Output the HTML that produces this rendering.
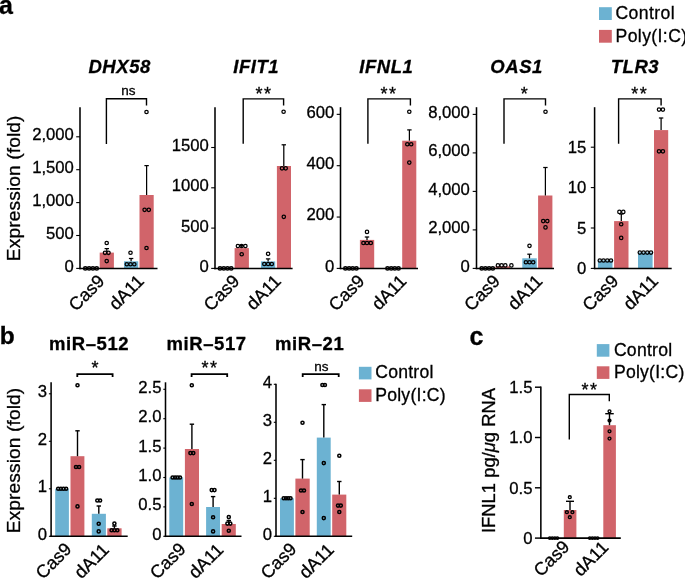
<!DOCTYPE html>
<html lang="en">
<head>
<meta charset="utf-8">
<title>Figure: interferon response gene and miRNA expression</title>
<style>
html,body{margin:0;padding:0;background:#fff;}
body{width:685px;height:578px;overflow:hidden;}
svg{display:block;}
svg text{font-family:"Liberation Sans",Arial,Helvetica,sans-serif;fill:#000;stroke:#000;stroke-width:0.3px;}
</style>
</head>
<body>
<svg width="685" height="578" viewBox="0 0 685 578">
<rect x="0" y="0" width="685" height="578" fill="#fff"/>
<text x="-0.9" y="14" font-size="25" font-weight="bold">a</text>
<text transform="translate(19.7 188.3) rotate(-90)" font-size="19.2" text-anchor="middle" letter-spacing="0.1">Expression (fold)</text>
<rect x="599" y="7.2" width="12.8" height="12.8" fill="#6CB2D2"/>
<rect x="599" y="29.9" width="12.8" height="12.8" fill="#D1646A"/>
<text x="615.5" y="18.9" font-size="17.6" letter-spacing="0.4">Control</text>
<text x="615.5" y="41.6" font-size="17.6" letter-spacing="0.4">Poly(I:C)</text>
<text x="119.65" y="72.8" font-size="18.5" text-anchor="middle" font-weight="bold" font-style="italic" letter-spacing="0.55">DHX58</text>
<rect x="99.7" y="252.6" width="14.2" height="15.8" fill="#D1646A"/>
<rect x="124" y="261.3" width="14.2" height="7.1" fill="#6CB2D2"/>
<rect x="139.5" y="195" width="14.2" height="73.4" fill="#D1646A"/>
<line x1="80" y1="107.2" x2="80" y2="269.17" stroke="#000" stroke-width="1.55" stroke-linecap="butt"/>
<line x1="79.22" y1="268.4" x2="157.5" y2="268.4" stroke="#000" stroke-width="1.55" stroke-linecap="butt"/>
<line x1="76.2" y1="268.4" x2="80" y2="268.4" stroke="#000" stroke-width="1.1" stroke-linecap="butt"/>
<text x="73.9" y="271.8" font-size="16.7" text-anchor="end">0</text>
<line x1="76.2" y1="235.5" x2="80" y2="235.5" stroke="#000" stroke-width="1.1" stroke-linecap="butt"/>
<text x="73.9" y="238.9" font-size="16.7" text-anchor="end">500</text>
<line x1="76.2" y1="202.6" x2="80" y2="202.6" stroke="#000" stroke-width="1.1" stroke-linecap="butt"/>
<text x="73.9" y="206" font-size="16.7" text-anchor="end">1,000</text>
<line x1="76.2" y1="169.7" x2="80" y2="169.7" stroke="#000" stroke-width="1.1" stroke-linecap="butt"/>
<text x="73.9" y="173.1" font-size="16.7" text-anchor="end">1,500</text>
<line x1="76.2" y1="136.8" x2="80" y2="136.8" stroke="#000" stroke-width="1.1" stroke-linecap="butt"/>
<text x="73.9" y="140.2" font-size="16.7" text-anchor="end">2,000</text>
<line x1="106.8" y1="248.6" x2="106.8" y2="252.6" stroke="#000" stroke-width="1.25" stroke-linecap="butt"/>
<line x1="104.6" y1="248.6" x2="109" y2="248.6" stroke="#000" stroke-width="1.25" stroke-linecap="butt"/>
<line x1="131.1" y1="258.5" x2="131.1" y2="261.3" stroke="#000" stroke-width="1.25" stroke-linecap="butt"/>
<line x1="128.9" y1="258.5" x2="133.3" y2="258.5" stroke="#000" stroke-width="1.25" stroke-linecap="butt"/>
<line x1="146.6" y1="165.6" x2="146.6" y2="195" stroke="#000" stroke-width="1.25" stroke-linecap="butt"/>
<line x1="144.4" y1="165.6" x2="148.8" y2="165.6" stroke="#000" stroke-width="1.25" stroke-linecap="butt"/>
<circle cx="85.3" cy="268.4" r="1.7" fill="none" stroke="#000" stroke-width="1.5"/>
<circle cx="89.1" cy="268.4" r="1.7" fill="none" stroke="#000" stroke-width="1.5"/>
<circle cx="92.9" cy="268.4" r="1.7" fill="none" stroke="#000" stroke-width="1.5"/>
<circle cx="96.7" cy="268.4" r="1.7" fill="none" stroke="#000" stroke-width="1.5"/>
<circle cx="106.7" cy="243" r="1.7" fill="none" stroke="#000" stroke-width="1.25"/>
<circle cx="105" cy="252.8" r="1.7" fill="none" stroke="#000" stroke-width="1.25"/>
<circle cx="108.5" cy="252.8" r="1.7" fill="none" stroke="#000" stroke-width="1.25"/>
<circle cx="106.7" cy="261.1" r="1.7" fill="none" stroke="#000" stroke-width="1.25"/>
<circle cx="130.5" cy="252.7" r="1.7" fill="none" stroke="#000" stroke-width="1.25"/>
<circle cx="126.8" cy="264.3" r="1.7" fill="none" stroke="#000" stroke-width="1.25"/>
<circle cx="130.5" cy="264.3" r="1.7" fill="none" stroke="#000" stroke-width="1.25"/>
<circle cx="134.3" cy="264.3" r="1.7" fill="none" stroke="#000" stroke-width="1.25"/>
<circle cx="146.5" cy="112" r="1.7" fill="none" stroke="#000" stroke-width="1.25"/>
<circle cx="144.6" cy="209.8" r="1.7" fill="none" stroke="#000" stroke-width="1.25"/>
<circle cx="148.8" cy="209.8" r="1.7" fill="none" stroke="#000" stroke-width="1.25"/>
<circle cx="146.5" cy="248" r="1.7" fill="none" stroke="#000" stroke-width="1.25"/>
<path d="M106.4 143.9 V98.7 H146.5 V105.6" fill="none" stroke="#000" stroke-width="1.4"/>
<text x="128.3" y="94.9" font-size="13.5" text-anchor="middle">ns</text>
<text transform="translate(105.7 282.2) rotate(-45)" font-size="18" text-anchor="end">Cas9</text>
<text transform="translate(145 282.2) rotate(-45)" font-size="18" text-anchor="end">dA11</text>
<text x="256.15" y="72.8" font-size="18.5" text-anchor="middle" font-weight="bold" font-style="italic" letter-spacing="0.55">IFIT1</text>
<rect x="234.6" y="248.1" width="14.3" height="20.3" fill="#D1646A"/>
<rect x="261" y="261.4" width="14.2" height="7" fill="#6CB2D2"/>
<rect x="276.9" y="166" width="14.1" height="102.4" fill="#D1646A"/>
<line x1="215" y1="107.2" x2="215" y2="269.17" stroke="#000" stroke-width="1.55" stroke-linecap="butt"/>
<line x1="214.22" y1="268.4" x2="292.6" y2="268.4" stroke="#000" stroke-width="1.55" stroke-linecap="butt"/>
<line x1="211.2" y1="268.4" x2="215" y2="268.4" stroke="#000" stroke-width="1.1" stroke-linecap="butt"/>
<text x="208.9" y="271.8" font-size="16.7" text-anchor="end">0</text>
<line x1="211.2" y1="228.1" x2="215" y2="228.1" stroke="#000" stroke-width="1.1" stroke-linecap="butt"/>
<text x="208.9" y="231.5" font-size="16.7" text-anchor="end">500</text>
<line x1="211.2" y1="187.8" x2="215" y2="187.8" stroke="#000" stroke-width="1.1" stroke-linecap="butt"/>
<text x="208.9" y="191.2" font-size="16.7" text-anchor="end">1000</text>
<line x1="211.2" y1="147.5" x2="215" y2="147.5" stroke="#000" stroke-width="1.1" stroke-linecap="butt"/>
<text x="208.9" y="150.9" font-size="16.7" text-anchor="end">1500</text>
<line x1="241.7" y1="245.5" x2="241.7" y2="248.1" stroke="#000" stroke-width="1.25" stroke-linecap="butt"/>
<line x1="239.5" y1="245.5" x2="243.9" y2="245.5" stroke="#000" stroke-width="1.25" stroke-linecap="butt"/>
<line x1="268.1" y1="258.9" x2="268.1" y2="261.4" stroke="#000" stroke-width="1.25" stroke-linecap="butt"/>
<line x1="265.9" y1="258.9" x2="270.3" y2="258.9" stroke="#000" stroke-width="1.25" stroke-linecap="butt"/>
<line x1="283.8" y1="144.8" x2="283.8" y2="166" stroke="#000" stroke-width="1.25" stroke-linecap="butt"/>
<line x1="281.6" y1="144.8" x2="286" y2="144.8" stroke="#000" stroke-width="1.25" stroke-linecap="butt"/>
<circle cx="220" cy="268.4" r="1.7" fill="none" stroke="#000" stroke-width="1.5"/>
<circle cx="223.8" cy="268.4" r="1.7" fill="none" stroke="#000" stroke-width="1.5"/>
<circle cx="227.5" cy="268.4" r="1.7" fill="none" stroke="#000" stroke-width="1.5"/>
<circle cx="231.2" cy="268.4" r="1.7" fill="none" stroke="#000" stroke-width="1.5"/>
<circle cx="237.9" cy="246" r="1.7" fill="none" stroke="#000" stroke-width="1.25"/>
<circle cx="241.6" cy="246" r="1.7" fill="none" stroke="#000" stroke-width="1.25"/>
<circle cx="245.4" cy="246" r="1.7" fill="none" stroke="#000" stroke-width="1.25"/>
<circle cx="241.7" cy="254.2" r="1.7" fill="none" stroke="#000" stroke-width="1.25"/>
<circle cx="268.1" cy="253.8" r="1.7" fill="none" stroke="#000" stroke-width="1.25"/>
<circle cx="264.3" cy="264" r="1.7" fill="none" stroke="#000" stroke-width="1.25"/>
<circle cx="268.1" cy="264" r="1.7" fill="none" stroke="#000" stroke-width="1.25"/>
<circle cx="271.8" cy="264" r="1.7" fill="none" stroke="#000" stroke-width="1.25"/>
<circle cx="283.6" cy="111.7" r="1.7" fill="none" stroke="#000" stroke-width="1.25"/>
<circle cx="282" cy="168.3" r="1.7" fill="none" stroke="#000" stroke-width="1.25"/>
<circle cx="285.7" cy="168.3" r="1.7" fill="none" stroke="#000" stroke-width="1.25"/>
<circle cx="283.8" cy="216.8" r="1.7" fill="none" stroke="#000" stroke-width="1.25"/>
<path d="M243.2 143.8 V98.9 H283.6 V105.6" fill="none" stroke="#000" stroke-width="1.4"/>
<text x="264.1" y="99.6" font-size="18" text-anchor="middle" letter-spacing="1.5">**</text>
<text transform="translate(240.7 282.2) rotate(-45)" font-size="18" text-anchor="end">Cas9</text>
<text transform="translate(282.2 282.2) rotate(-45)" font-size="18" text-anchor="end">dA11</text>
<text x="386.35" y="72.8" font-size="18.5" text-anchor="middle" font-weight="bold" font-style="italic" letter-spacing="0.55">IFNL1</text>
<rect x="359.9" y="239.9" width="14.3" height="28.5" fill="#D1646A"/>
<rect x="402.2" y="140.7" width="14.1" height="127.7" fill="#D1646A"/>
<line x1="340.5" y1="107.2" x2="340.5" y2="269.17" stroke="#000" stroke-width="1.55" stroke-linecap="butt"/>
<line x1="339.73" y1="268.4" x2="418" y2="268.4" stroke="#000" stroke-width="1.55" stroke-linecap="butt"/>
<line x1="336.7" y1="268.4" x2="340.5" y2="268.4" stroke="#000" stroke-width="1.1" stroke-linecap="butt"/>
<text x="334.4" y="271.8" font-size="16.7" text-anchor="end">0</text>
<line x1="336.7" y1="217.05" x2="340.5" y2="217.05" stroke="#000" stroke-width="1.1" stroke-linecap="butt"/>
<text x="334.4" y="220.45" font-size="16.7" text-anchor="end">200</text>
<line x1="336.7" y1="165.7" x2="340.5" y2="165.7" stroke="#000" stroke-width="1.1" stroke-linecap="butt"/>
<text x="334.4" y="169.1" font-size="16.7" text-anchor="end">400</text>
<line x1="336.7" y1="114.35" x2="340.5" y2="114.35" stroke="#000" stroke-width="1.1" stroke-linecap="butt"/>
<text x="334.4" y="117.75" font-size="16.7" text-anchor="end">600</text>
<line x1="367" y1="237" x2="367" y2="239.9" stroke="#000" stroke-width="1.25" stroke-linecap="butt"/>
<line x1="364.8" y1="237" x2="369.2" y2="237" stroke="#000" stroke-width="1.25" stroke-linecap="butt"/>
<line x1="409.4" y1="129.9" x2="409.4" y2="140.7" stroke="#000" stroke-width="1.25" stroke-linecap="butt"/>
<line x1="407.2" y1="129.9" x2="411.6" y2="129.9" stroke="#000" stroke-width="1.25" stroke-linecap="butt"/>
<circle cx="345.4" cy="268.4" r="1.7" fill="none" stroke="#000" stroke-width="1.5"/>
<circle cx="349.1" cy="268.4" r="1.7" fill="none" stroke="#000" stroke-width="1.5"/>
<circle cx="352.7" cy="268.4" r="1.7" fill="none" stroke="#000" stroke-width="1.5"/>
<circle cx="356.4" cy="268.4" r="1.7" fill="none" stroke="#000" stroke-width="1.5"/>
<circle cx="387.5" cy="268.4" r="1.7" fill="none" stroke="#000" stroke-width="1.5"/>
<circle cx="391.2" cy="268.4" r="1.7" fill="none" stroke="#000" stroke-width="1.5"/>
<circle cx="394.8" cy="268.4" r="1.7" fill="none" stroke="#000" stroke-width="1.5"/>
<circle cx="398.5" cy="268.4" r="1.7" fill="none" stroke="#000" stroke-width="1.5"/>
<circle cx="367" cy="231.9" r="1.7" fill="none" stroke="#000" stroke-width="1.25"/>
<circle cx="363.4" cy="243" r="1.7" fill="none" stroke="#000" stroke-width="1.25"/>
<circle cx="367" cy="243" r="1.7" fill="none" stroke="#000" stroke-width="1.25"/>
<circle cx="370.8" cy="243" r="1.7" fill="none" stroke="#000" stroke-width="1.25"/>
<circle cx="409.3" cy="111.7" r="1.7" fill="none" stroke="#000" stroke-width="1.25"/>
<circle cx="407.3" cy="144.2" r="1.7" fill="none" stroke="#000" stroke-width="1.25"/>
<circle cx="411.2" cy="144.2" r="1.7" fill="none" stroke="#000" stroke-width="1.25"/>
<circle cx="409.3" cy="162.6" r="1.7" fill="none" stroke="#000" stroke-width="1.25"/>
<path d="M367.9 143.8 V98.9 H410.4 V105.6" fill="none" stroke="#000" stroke-width="1.4"/>
<text x="389" y="99.6" font-size="18" text-anchor="middle" letter-spacing="1.5">**</text>
<text transform="translate(365.7 282.2) rotate(-45)" font-size="18" text-anchor="end">Cas9</text>
<text transform="translate(407.7 282.2) rotate(-45)" font-size="18" text-anchor="end">dA11</text>
<text x="516.65" y="72.8" font-size="18.5" text-anchor="middle" font-weight="bold" font-style="italic" letter-spacing="0.55">OAS1</text>
<rect x="495.5" y="266.3" width="14.5" height="2.1" fill="#D1646A"/>
<rect x="522.3" y="258.3" width="14.5" height="10.1" fill="#6CB2D2"/>
<rect x="538.1" y="195.5" width="14.3" height="72.9" fill="#D1646A"/>
<line x1="476.5" y1="107.2" x2="476.5" y2="269.17" stroke="#000" stroke-width="1.55" stroke-linecap="butt"/>
<line x1="475.73" y1="268.4" x2="554" y2="268.4" stroke="#000" stroke-width="1.55" stroke-linecap="butt"/>
<line x1="472.7" y1="268.4" x2="476.5" y2="268.4" stroke="#000" stroke-width="1.1" stroke-linecap="butt"/>
<text x="469.9" y="271.8" font-size="16.7" text-anchor="end">0</text>
<line x1="472.7" y1="229.9" x2="476.5" y2="229.9" stroke="#000" stroke-width="1.1" stroke-linecap="butt"/>
<text x="469.9" y="233.3" font-size="16.7" text-anchor="end">2,000</text>
<line x1="472.7" y1="191.4" x2="476.5" y2="191.4" stroke="#000" stroke-width="1.1" stroke-linecap="butt"/>
<text x="469.9" y="194.8" font-size="16.7" text-anchor="end">4,000</text>
<line x1="472.7" y1="152.9" x2="476.5" y2="152.9" stroke="#000" stroke-width="1.1" stroke-linecap="butt"/>
<text x="469.9" y="156.3" font-size="16.7" text-anchor="end">6,000</text>
<line x1="472.7" y1="114.4" x2="476.5" y2="114.4" stroke="#000" stroke-width="1.1" stroke-linecap="butt"/>
<text x="469.9" y="117.8" font-size="16.7" text-anchor="end">8,000</text>
<line x1="529.5" y1="254.2" x2="529.5" y2="258.3" stroke="#000" stroke-width="1.25" stroke-linecap="butt"/>
<line x1="527.3" y1="254.2" x2="531.7" y2="254.2" stroke="#000" stroke-width="1.25" stroke-linecap="butt"/>
<line x1="545.4" y1="167.5" x2="545.4" y2="195.5" stroke="#000" stroke-width="1.25" stroke-linecap="butt"/>
<line x1="543.2" y1="167.5" x2="547.6" y2="167.5" stroke="#000" stroke-width="1.25" stroke-linecap="butt"/>
<circle cx="481.7" cy="268.4" r="1.7" fill="none" stroke="#000" stroke-width="1.5"/>
<circle cx="485.4" cy="268.4" r="1.7" fill="none" stroke="#000" stroke-width="1.5"/>
<circle cx="489.1" cy="268.4" r="1.7" fill="none" stroke="#000" stroke-width="1.5"/>
<circle cx="492.8" cy="268.4" r="1.7" fill="none" stroke="#000" stroke-width="1.5"/>
<circle cx="497.9" cy="265.4" r="1.7" fill="none" stroke="#000" stroke-width="1.25"/>
<circle cx="501.6" cy="265.4" r="1.7" fill="none" stroke="#000" stroke-width="1.25"/>
<circle cx="505.3" cy="265.4" r="1.7" fill="none" stroke="#000" stroke-width="1.25"/>
<circle cx="511.4" cy="265.4" r="1.7" fill="none" stroke="#000" stroke-width="1.25"/>
<circle cx="529.5" cy="245.8" r="1.7" fill="none" stroke="#000" stroke-width="1.25"/>
<circle cx="525.9" cy="262.2" r="1.7" fill="none" stroke="#000" stroke-width="1.25"/>
<circle cx="529.5" cy="262.2" r="1.7" fill="none" stroke="#000" stroke-width="1.25"/>
<circle cx="533.2" cy="262.2" r="1.7" fill="none" stroke="#000" stroke-width="1.25"/>
<circle cx="545.5" cy="111.7" r="1.7" fill="none" stroke="#000" stroke-width="1.25"/>
<circle cx="543.2" cy="221.1" r="1.7" fill="none" stroke="#000" stroke-width="1.25"/>
<circle cx="547.3" cy="221.1" r="1.7" fill="none" stroke="#000" stroke-width="1.25"/>
<circle cx="545.5" cy="227.4" r="1.7" fill="none" stroke="#000" stroke-width="1.25"/>
<path d="M504 143.8 V98.9 H545.5 V105.6" fill="none" stroke="#000" stroke-width="1.4"/>
<text x="525.1" y="99.6" font-size="18" text-anchor="middle" letter-spacing="1.5">*</text>
<text transform="translate(501.2 282.2) rotate(-45)" font-size="18" text-anchor="end">Cas9</text>
<text transform="translate(543.7 282.2) rotate(-45)" font-size="18" text-anchor="end">dA11</text>
<text x="634.95" y="72.8" font-size="18.5" text-anchor="middle" font-weight="bold" font-style="italic" letter-spacing="0.55">TLR3</text>
<rect x="597.9" y="260.4" width="14.6" height="8" fill="#6CB2D2"/>
<rect x="614.1" y="221.1" width="14.4" height="47.3" fill="#D1646A"/>
<rect x="638" y="252.4" width="14.6" height="16" fill="#6CB2D2"/>
<rect x="654" y="130.1" width="14.2" height="138.3" fill="#D1646A"/>
<line x1="594.6" y1="107.2" x2="594.6" y2="269.17" stroke="#000" stroke-width="1.55" stroke-linecap="butt"/>
<line x1="593.83" y1="268.4" x2="671.7" y2="268.4" stroke="#000" stroke-width="1.55" stroke-linecap="butt"/>
<line x1="590.8" y1="268.4" x2="594.6" y2="268.4" stroke="#000" stroke-width="1.1" stroke-linecap="butt"/>
<text x="586.4" y="274" font-size="16.7" text-anchor="end">0</text>
<line x1="590.8" y1="228" x2="594.6" y2="228" stroke="#000" stroke-width="1.1" stroke-linecap="butt"/>
<text x="586.4" y="233.6" font-size="16.7" text-anchor="end">5</text>
<line x1="590.8" y1="187.6" x2="594.6" y2="187.6" stroke="#000" stroke-width="1.1" stroke-linecap="butt"/>
<text x="586.4" y="193.2" font-size="16.7" text-anchor="end">10</text>
<line x1="590.8" y1="147.2" x2="594.6" y2="147.2" stroke="#000" stroke-width="1.1" stroke-linecap="butt"/>
<text x="586.4" y="152.8" font-size="16.7" text-anchor="end">15</text>
<line x1="621.3" y1="214" x2="621.3" y2="221.1" stroke="#000" stroke-width="1.25" stroke-linecap="butt"/>
<line x1="619.1" y1="214" x2="623.5" y2="214" stroke="#000" stroke-width="1.25" stroke-linecap="butt"/>
<line x1="661.1" y1="118" x2="661.1" y2="130.1" stroke="#000" stroke-width="1.25" stroke-linecap="butt"/>
<line x1="658.9" y1="118" x2="663.3" y2="118" stroke="#000" stroke-width="1.25" stroke-linecap="butt"/>
<circle cx="599.8" cy="260.5" r="1.7" fill="none" stroke="#000" stroke-width="1.25"/>
<circle cx="603.5" cy="260.5" r="1.7" fill="none" stroke="#000" stroke-width="1.25"/>
<circle cx="607.3" cy="260.5" r="1.7" fill="none" stroke="#000" stroke-width="1.25"/>
<circle cx="611" cy="260.5" r="1.7" fill="none" stroke="#000" stroke-width="1.25"/>
<circle cx="639.8" cy="252.6" r="1.7" fill="none" stroke="#000" stroke-width="1.25"/>
<circle cx="643.5" cy="252.6" r="1.7" fill="none" stroke="#000" stroke-width="1.25"/>
<circle cx="647.3" cy="252.6" r="1.7" fill="none" stroke="#000" stroke-width="1.25"/>
<circle cx="651" cy="252.6" r="1.7" fill="none" stroke="#000" stroke-width="1.25"/>
<circle cx="619.4" cy="211.9" r="1.7" fill="none" stroke="#000" stroke-width="1.25"/>
<circle cx="623.3" cy="211.9" r="1.7" fill="none" stroke="#000" stroke-width="1.25"/>
<circle cx="621.2" cy="224.2" r="1.7" fill="none" stroke="#000" stroke-width="1.25"/>
<circle cx="621.2" cy="237.9" r="1.7" fill="none" stroke="#000" stroke-width="1.25"/>
<circle cx="659" cy="109.6" r="1.7" fill="none" stroke="#000" stroke-width="1.25"/>
<circle cx="662.9" cy="109.6" r="1.7" fill="none" stroke="#000" stroke-width="1.25"/>
<circle cx="659" cy="151.3" r="1.7" fill="none" stroke="#000" stroke-width="1.25"/>
<circle cx="662.9" cy="151.3" r="1.7" fill="none" stroke="#000" stroke-width="1.25"/>
<path d="M618.6 143.8 V98.9 H661.1 V105.6" fill="none" stroke="#000" stroke-width="1.4"/>
<text x="639.7" y="99.6" font-size="18" text-anchor="middle" letter-spacing="1.5">**</text>
<text transform="translate(619.5 282.2) rotate(-45)" font-size="18" text-anchor="end">Cas9</text>
<text transform="translate(659.3 282.2) rotate(-45)" font-size="18" text-anchor="end">dA11</text>
<text x="-0.3" y="344.3" font-size="24.5" font-weight="bold">b</text>
<text transform="translate(19.7 460.5) rotate(-90)" font-size="19.2" text-anchor="middle" letter-spacing="0.1">Expression (fold)</text>
<rect x="358.9" y="366.8" width="12.6" height="12.6" fill="#6CB2D2"/>
<rect x="358.9" y="389.3" width="12.6" height="12.6" fill="#D1646A"/>
<text x="375.2" y="378.3" font-size="17.6" letter-spacing="0.25">Control</text>
<text x="375.2" y="400.8" font-size="17.6" letter-spacing="0.25">Poly(I:C)</text>
<text x="89.1" y="350.2" font-size="18.5" text-anchor="middle" font-weight="bold" letter-spacing="0.6">miR–512</text>
<rect x="55.2" y="488.8" width="13.7" height="47.5" fill="#6CB2D2"/>
<rect x="70.5" y="456.2" width="13.9" height="80.1" fill="#D1646A"/>
<rect x="91.8" y="513.8" width="14.1" height="22.5" fill="#6CB2D2"/>
<rect x="107.3" y="528.3" width="14.3" height="8" fill="#D1646A"/>
<line x1="51.1" y1="382.3" x2="51.1" y2="537.07" stroke="#000" stroke-width="1.55" stroke-linecap="butt"/>
<line x1="50.33" y1="536.3" x2="127.7" y2="536.3" stroke="#000" stroke-width="1.55" stroke-linecap="butt"/>
<line x1="48.9" y1="536.3" x2="51.1" y2="536.3" stroke="#000" stroke-width="1.1" stroke-linecap="butt"/>
<text x="47.1" y="539.7" font-size="16.7" text-anchor="end">0</text>
<line x1="48.9" y1="488.8" x2="51.1" y2="488.8" stroke="#000" stroke-width="1.1" stroke-linecap="butt"/>
<text x="47.1" y="492.2" font-size="16.7" text-anchor="end">1</text>
<line x1="48.9" y1="441.3" x2="51.1" y2="441.3" stroke="#000" stroke-width="1.1" stroke-linecap="butt"/>
<text x="47.1" y="444.7" font-size="16.7" text-anchor="end">2</text>
<line x1="48.9" y1="393.8" x2="51.1" y2="393.8" stroke="#000" stroke-width="1.1" stroke-linecap="butt"/>
<text x="47.1" y="397.2" font-size="16.7" text-anchor="end">3</text>
<line x1="77.5" y1="430.8" x2="77.5" y2="456.2" stroke="#000" stroke-width="1.4" stroke-linecap="butt"/>
<line x1="75.3" y1="430.8" x2="79.7" y2="430.8" stroke="#000" stroke-width="1.4" stroke-linecap="butt"/>
<line x1="98.8" y1="506" x2="98.8" y2="513.8" stroke="#000" stroke-width="1.4" stroke-linecap="butt"/>
<line x1="96.6" y1="506" x2="101" y2="506" stroke="#000" stroke-width="1.4" stroke-linecap="butt"/>
<line x1="114.4" y1="526" x2="114.4" y2="528.3" stroke="#000" stroke-width="1.4" stroke-linecap="butt"/>
<line x1="112.2" y1="526" x2="116.6" y2="526" stroke="#000" stroke-width="1.4" stroke-linecap="butt"/>
<circle cx="58.2" cy="488.8" r="1.55" fill="none" stroke="#000" stroke-width="1.5"/>
<circle cx="60.9" cy="488.8" r="1.55" fill="none" stroke="#000" stroke-width="1.5"/>
<circle cx="63.5" cy="488.8" r="1.55" fill="none" stroke="#000" stroke-width="1.5"/>
<circle cx="66.1" cy="488.8" r="1.55" fill="none" stroke="#000" stroke-width="1.5"/>
<circle cx="77.5" cy="385.2" r="1.55" fill="none" stroke="#000" stroke-width="1.5"/>
<circle cx="76" cy="467" r="1.55" fill="none" stroke="#000" stroke-width="1.5"/>
<circle cx="79.1" cy="467" r="1.55" fill="none" stroke="#000" stroke-width="1.5"/>
<circle cx="77.5" cy="506.4" r="1.55" fill="none" stroke="#000" stroke-width="1.5"/>
<circle cx="97.3" cy="500.5" r="1.55" fill="none" stroke="#000" stroke-width="1.5"/>
<circle cx="100.1" cy="500.5" r="1.55" fill="none" stroke="#000" stroke-width="1.5"/>
<circle cx="98.7" cy="523.8" r="1.55" fill="none" stroke="#000" stroke-width="1.5"/>
<circle cx="98.7" cy="531.4" r="1.55" fill="none" stroke="#000" stroke-width="1.5"/>
<circle cx="114.4" cy="523.6" r="1.55" fill="none" stroke="#000" stroke-width="1.5"/>
<circle cx="111.6" cy="530.3" r="1.55" fill="none" stroke="#000" stroke-width="1.5"/>
<circle cx="114.4" cy="530.3" r="1.55" fill="none" stroke="#000" stroke-width="1.5"/>
<circle cx="117.3" cy="530.3" r="1.55" fill="none" stroke="#000" stroke-width="1.5"/>
<path d="M77.3 377 V374.1 H112.6 V377" fill="none" stroke="#000" stroke-width="1.8"/>
<text x="95.7" y="374.1" font-size="18" text-anchor="middle" letter-spacing="1.5">*</text>
<text transform="translate(72.7 550.2) rotate(-45)" font-size="18" text-anchor="end">Cas9</text>
<text transform="translate(110.2 550.8) rotate(-45)" font-size="18" text-anchor="end">dA11</text>
<text x="206.6" y="350.2" font-size="18.5" text-anchor="middle" font-weight="bold" letter-spacing="0.6">miR–517</text>
<rect x="169.3" y="477.5" width="13.9" height="58.8" fill="#6CB2D2"/>
<rect x="184.9" y="449" width="14.1" height="87.3" fill="#D1646A"/>
<rect x="206.1" y="507" width="13.9" height="29.3" fill="#6CB2D2"/>
<rect x="221.7" y="524" width="14.1" height="12.3" fill="#D1646A"/>
<line x1="165.5" y1="382.3" x2="165.5" y2="537.07" stroke="#000" stroke-width="1.55" stroke-linecap="butt"/>
<line x1="164.72" y1="536.3" x2="241.5" y2="536.3" stroke="#000" stroke-width="1.55" stroke-linecap="butt"/>
<line x1="163.3" y1="536.3" x2="165.5" y2="536.3" stroke="#000" stroke-width="1.1" stroke-linecap="butt"/>
<text x="161.5" y="539.7" font-size="16.7" text-anchor="end">0</text>
<line x1="163.3" y1="506.9" x2="165.5" y2="506.9" stroke="#000" stroke-width="1.1" stroke-linecap="butt"/>
<text x="161.5" y="510.3" font-size="16.7" text-anchor="end">0.5</text>
<line x1="163.3" y1="477.5" x2="165.5" y2="477.5" stroke="#000" stroke-width="1.1" stroke-linecap="butt"/>
<text x="161.5" y="480.9" font-size="16.7" text-anchor="end">1.0</text>
<line x1="163.3" y1="448.1" x2="165.5" y2="448.1" stroke="#000" stroke-width="1.1" stroke-linecap="butt"/>
<text x="161.5" y="451.5" font-size="16.7" text-anchor="end">1.5</text>
<line x1="163.3" y1="418.7" x2="165.5" y2="418.7" stroke="#000" stroke-width="1.1" stroke-linecap="butt"/>
<text x="161.5" y="422.1" font-size="16.7" text-anchor="end">2.0</text>
<line x1="163.3" y1="389.3" x2="165.5" y2="389.3" stroke="#000" stroke-width="1.1" stroke-linecap="butt"/>
<text x="161.5" y="392.7" font-size="16.7" text-anchor="end">2.5</text>
<line x1="191.9" y1="424.2" x2="191.9" y2="449" stroke="#000" stroke-width="1.4" stroke-linecap="butt"/>
<line x1="189.7" y1="424.2" x2="194.1" y2="424.2" stroke="#000" stroke-width="1.4" stroke-linecap="butt"/>
<line x1="213.1" y1="496.6" x2="213.1" y2="507" stroke="#000" stroke-width="1.4" stroke-linecap="butt"/>
<line x1="210.9" y1="496.6" x2="215.3" y2="496.6" stroke="#000" stroke-width="1.4" stroke-linecap="butt"/>
<line x1="228.8" y1="520.5" x2="228.8" y2="524" stroke="#000" stroke-width="1.4" stroke-linecap="butt"/>
<line x1="226.6" y1="520.5" x2="231" y2="520.5" stroke="#000" stroke-width="1.4" stroke-linecap="butt"/>
<circle cx="172.6" cy="477.5" r="1.55" fill="none" stroke="#000" stroke-width="1.5"/>
<circle cx="175.1" cy="477.5" r="1.55" fill="none" stroke="#000" stroke-width="1.5"/>
<circle cx="177.5" cy="477.5" r="1.55" fill="none" stroke="#000" stroke-width="1.5"/>
<circle cx="180" cy="477.5" r="1.55" fill="none" stroke="#000" stroke-width="1.5"/>
<circle cx="191.8" cy="385.2" r="1.55" fill="none" stroke="#000" stroke-width="1.5"/>
<circle cx="190.4" cy="453.1" r="1.55" fill="none" stroke="#000" stroke-width="1.5"/>
<circle cx="193.3" cy="453.1" r="1.55" fill="none" stroke="#000" stroke-width="1.5"/>
<circle cx="191.8" cy="504" r="1.55" fill="none" stroke="#000" stroke-width="1.5"/>
<circle cx="211.7" cy="490.1" r="1.55" fill="none" stroke="#000" stroke-width="1.5"/>
<circle cx="214.5" cy="490.1" r="1.55" fill="none" stroke="#000" stroke-width="1.5"/>
<circle cx="213.1" cy="517.3" r="1.55" fill="none" stroke="#000" stroke-width="1.5"/>
<circle cx="213.1" cy="531.4" r="1.55" fill="none" stroke="#000" stroke-width="1.5"/>
<circle cx="228.8" cy="517.1" r="1.55" fill="none" stroke="#000" stroke-width="1.5"/>
<circle cx="227.4" cy="523.6" r="1.55" fill="none" stroke="#000" stroke-width="1.5"/>
<circle cx="230.3" cy="523.6" r="1.55" fill="none" stroke="#000" stroke-width="1.5"/>
<circle cx="228.8" cy="530.8" r="1.55" fill="none" stroke="#000" stroke-width="1.5"/>
<path d="M191.6 377 V374.1 H227.2 V377" fill="none" stroke="#000" stroke-width="1.8"/>
<text x="210.1" y="374.3" font-size="18" text-anchor="middle" letter-spacing="1.5">**</text>
<text transform="translate(186.9 550.2) rotate(-45)" font-size="18" text-anchor="end">Cas9</text>
<text transform="translate(224.5 550.8) rotate(-45)" font-size="18" text-anchor="end">dA11</text>
<text x="309.7" y="350.2" font-size="18.5" text-anchor="middle" font-weight="bold" letter-spacing="0.6">miR–21</text>
<rect x="280" y="498.3" width="13.9" height="38" fill="#6CB2D2"/>
<rect x="295.4" y="478.6" width="14.3" height="57.7" fill="#D1646A"/>
<rect x="316.8" y="437.6" width="13.9" height="98.7" fill="#6CB2D2"/>
<rect x="332.2" y="494.6" width="14.1" height="41.7" fill="#D1646A"/>
<line x1="276" y1="383.8" x2="276" y2="537.07" stroke="#000" stroke-width="1.55" stroke-linecap="butt"/>
<line x1="275.23" y1="536.3" x2="352.2" y2="536.3" stroke="#000" stroke-width="1.55" stroke-linecap="butt"/>
<line x1="273.8" y1="536.3" x2="276" y2="536.3" stroke="#000" stroke-width="1.1" stroke-linecap="butt"/>
<text x="272" y="539.7" font-size="16.7" text-anchor="end">0</text>
<line x1="273.8" y1="498.3" x2="276" y2="498.3" stroke="#000" stroke-width="1.1" stroke-linecap="butt"/>
<text x="272" y="501.7" font-size="16.7" text-anchor="end">1</text>
<line x1="273.8" y1="460.3" x2="276" y2="460.3" stroke="#000" stroke-width="1.1" stroke-linecap="butt"/>
<text x="272" y="463.7" font-size="16.7" text-anchor="end">2</text>
<line x1="273.8" y1="422.3" x2="276" y2="422.3" stroke="#000" stroke-width="1.1" stroke-linecap="butt"/>
<text x="272" y="425.7" font-size="16.7" text-anchor="end">3</text>
<line x1="273.8" y1="384.3" x2="276" y2="384.3" stroke="#000" stroke-width="1.1" stroke-linecap="butt"/>
<text x="272" y="387.7" font-size="16.7" text-anchor="end">4</text>
<line x1="302.5" y1="459.6" x2="302.5" y2="478.6" stroke="#000" stroke-width="1.4" stroke-linecap="butt"/>
<line x1="300.3" y1="459.6" x2="304.7" y2="459.6" stroke="#000" stroke-width="1.4" stroke-linecap="butt"/>
<line x1="323.8" y1="404.6" x2="323.8" y2="437.6" stroke="#000" stroke-width="1.4" stroke-linecap="butt"/>
<line x1="321.6" y1="404.6" x2="326" y2="404.6" stroke="#000" stroke-width="1.4" stroke-linecap="butt"/>
<line x1="339.3" y1="481.5" x2="339.3" y2="494.6" stroke="#000" stroke-width="1.4" stroke-linecap="butt"/>
<line x1="337.1" y1="481.5" x2="341.5" y2="481.5" stroke="#000" stroke-width="1.4" stroke-linecap="butt"/>
<circle cx="283.7" cy="498.3" r="1.55" fill="none" stroke="#000" stroke-width="1.5"/>
<circle cx="286" cy="498.3" r="1.55" fill="none" stroke="#000" stroke-width="1.5"/>
<circle cx="288.2" cy="498.3" r="1.55" fill="none" stroke="#000" stroke-width="1.5"/>
<circle cx="290.5" cy="498.3" r="1.55" fill="none" stroke="#000" stroke-width="1.5"/>
<circle cx="302.5" cy="422.8" r="1.55" fill="none" stroke="#000" stroke-width="1.5"/>
<circle cx="301" cy="490.5" r="1.55" fill="none" stroke="#000" stroke-width="1.5"/>
<circle cx="304" cy="490.5" r="1.55" fill="none" stroke="#000" stroke-width="1.5"/>
<circle cx="302.5" cy="512" r="1.55" fill="none" stroke="#000" stroke-width="1.5"/>
<circle cx="322.4" cy="385" r="1.55" fill="none" stroke="#000" stroke-width="1.5"/>
<circle cx="324.9" cy="385" r="1.55" fill="none" stroke="#000" stroke-width="1.5"/>
<circle cx="323.8" cy="463.1" r="1.55" fill="none" stroke="#000" stroke-width="1.5"/>
<circle cx="323.8" cy="518.1" r="1.55" fill="none" stroke="#000" stroke-width="1.5"/>
<circle cx="339.3" cy="455.8" r="1.55" fill="none" stroke="#000" stroke-width="1.5"/>
<circle cx="338" cy="505.6" r="1.55" fill="none" stroke="#000" stroke-width="1.5"/>
<circle cx="340.8" cy="505.6" r="1.55" fill="none" stroke="#000" stroke-width="1.5"/>
<circle cx="339.3" cy="512" r="1.55" fill="none" stroke="#000" stroke-width="1.5"/>
<path d="M302.7 377 V374.1 H338.7 V377" fill="none" stroke="#000" stroke-width="1.8"/>
<text x="321.5" y="371.3" font-size="13.5" text-anchor="middle">ns</text>
<text transform="translate(297.6 550.2) rotate(-45)" font-size="18" text-anchor="end">Cas9</text>
<text transform="translate(335 550.8) rotate(-45)" font-size="18" text-anchor="end">dA11</text>
<text x="469.6" y="344.9" font-size="25" font-weight="bold">c</text>
<text transform="translate(495.2 460.5) rotate(-90)" font-size="18.4" text-anchor="middle">IFNL1 pg/<tspan font-style="italic">μ</tspan>g RNA</text>
<rect x="596.8" y="344.1" width="12.6" height="12.6" fill="#6CB2D2"/>
<rect x="596.8" y="366.3" width="12.6" height="12.6" fill="#D1646A"/>
<text x="613.9" y="355.6" font-size="17.6" letter-spacing="0.25">Control</text>
<text x="613.9" y="377.8" font-size="17.6" letter-spacing="0.25">Poly(I:C)</text>
<rect x="563.8" y="510" width="12.6" height="28.1" fill="#D1646A"/>
<rect x="603.3" y="425.2" width="12.6" height="112.9" fill="#D1646A"/>
<line x1="540.85" y1="386.5" x2="540.85" y2="538.88" stroke="#000" stroke-width="1.55" stroke-linecap="butt"/>
<line x1="540.08" y1="538.1" x2="620.8" y2="538.1" stroke="#000" stroke-width="1.55" stroke-linecap="butt"/>
<line x1="534.95" y1="538.1" x2="540.85" y2="538.1" stroke="#000" stroke-width="1.45" stroke-linecap="butt"/>
<text x="532.55" y="543.9" font-size="16.7" text-anchor="end">0</text>
<line x1="534.95" y1="487.8" x2="540.85" y2="487.8" stroke="#000" stroke-width="1.45" stroke-linecap="butt"/>
<text x="532.55" y="493.6" font-size="16.7" text-anchor="end">0.5</text>
<line x1="534.95" y1="437.5" x2="540.85" y2="437.5" stroke="#000" stroke-width="1.45" stroke-linecap="butt"/>
<text x="532.55" y="443.3" font-size="16.7" text-anchor="end">1.0</text>
<line x1="534.95" y1="387.2" x2="540.85" y2="387.2" stroke="#000" stroke-width="1.45" stroke-linecap="butt"/>
<text x="532.55" y="393" font-size="16.7" text-anchor="end">1.5</text>
<line x1="570" y1="501.3" x2="570" y2="510" stroke="#000" stroke-width="1.4" stroke-linecap="butt"/>
<line x1="566" y1="501.3" x2="574" y2="501.3" stroke="#000" stroke-width="1.4" stroke-linecap="butt"/>
<line x1="609.5" y1="413.7" x2="609.5" y2="425.2" stroke="#000" stroke-width="1.4" stroke-linecap="butt"/>
<line x1="605.25" y1="413.7" x2="613.75" y2="413.7" stroke="#000" stroke-width="1.4" stroke-linecap="butt"/>
<circle cx="549.8" cy="538.1" r="1.3" fill="none" stroke="#000" stroke-width="1.35"/>
<circle cx="552.3" cy="538.1" r="1.3" fill="none" stroke="#000" stroke-width="1.35"/>
<circle cx="554.9" cy="538.1" r="1.3" fill="none" stroke="#000" stroke-width="1.35"/>
<circle cx="557.4" cy="538.1" r="1.3" fill="none" stroke="#000" stroke-width="1.35"/>
<circle cx="589.8" cy="538.1" r="1.3" fill="none" stroke="#000" stroke-width="1.35"/>
<circle cx="592.4" cy="538.1" r="1.3" fill="none" stroke="#000" stroke-width="1.35"/>
<circle cx="595" cy="538.1" r="1.3" fill="none" stroke="#000" stroke-width="1.35"/>
<circle cx="597.6" cy="538.1" r="1.3" fill="none" stroke="#000" stroke-width="1.35"/>
<circle cx="569.8" cy="497.2" r="1.45" fill="none" stroke="#000" stroke-width="1.35"/>
<circle cx="566.9" cy="512.2" r="1.45" fill="none" stroke="#000" stroke-width="1.35"/>
<circle cx="572.4" cy="512.2" r="1.45" fill="none" stroke="#000" stroke-width="1.35"/>
<circle cx="569.8" cy="517.2" r="1.45" fill="none" stroke="#000" stroke-width="1.35"/>
<circle cx="609.5" cy="411.3" r="1.45" fill="none" stroke="#000" stroke-width="1.35"/>
<circle cx="609.5" cy="420.6" r="1.45" fill="#000" stroke="#000" stroke-width="1.35"/>
<circle cx="609.5" cy="431.3" r="1.45" fill="none" stroke="#000" stroke-width="1.35"/>
<circle cx="609.5" cy="438.6" r="1.45" fill="none" stroke="#000" stroke-width="1.35"/>
<path d="M569.3 439.5 V394.5 H609.3 V401.2" fill="none" stroke="#000" stroke-width="1.4"/>
<text x="589.9" y="395.6" font-size="18" text-anchor="middle" letter-spacing="1.5">**</text>
<text transform="translate(570.6 547.8) rotate(-45)" font-size="18" text-anchor="end">Cas9</text>
<text transform="translate(609.5 548.5) rotate(-45)" font-size="18" text-anchor="end">dA11</text>
</svg>
</body>
</html>
